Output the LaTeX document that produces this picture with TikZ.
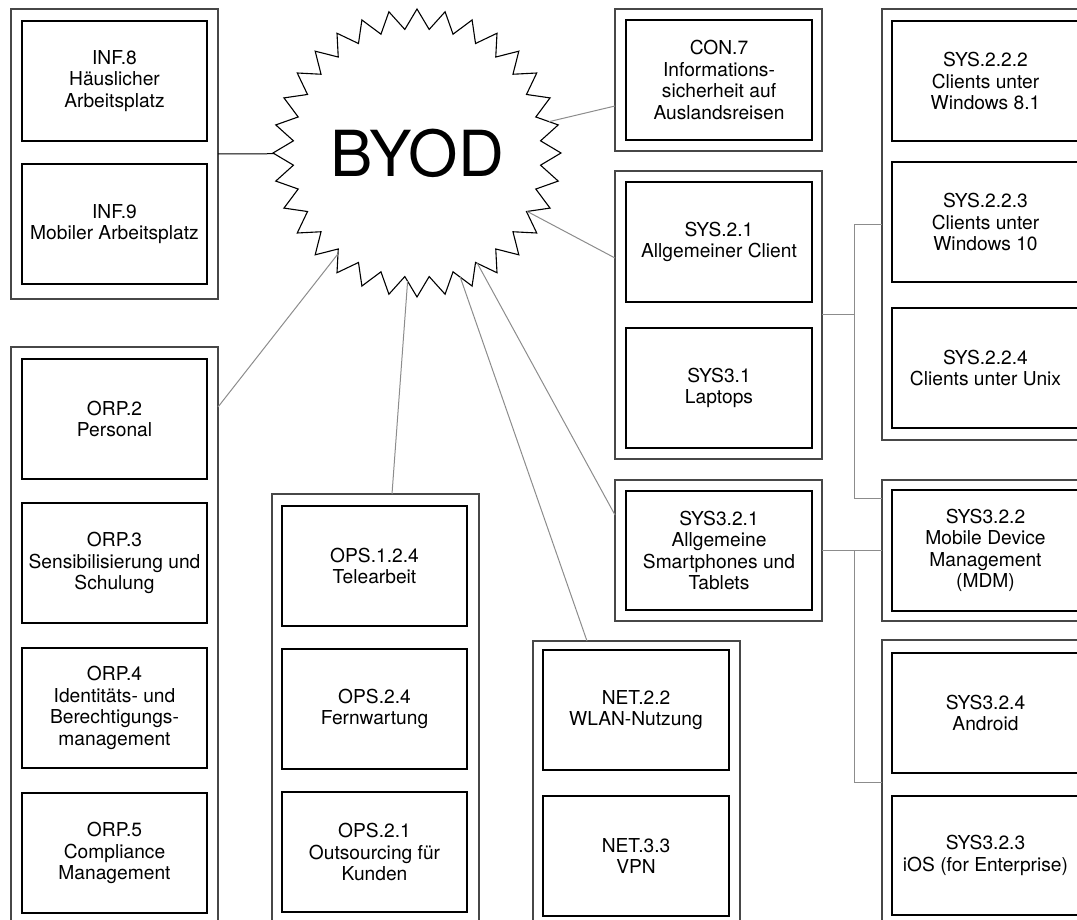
\documentclass[tikz,border=0pt]{standalone}
\usepackage{fontspec}
\setmainfont{TeX Gyre Heros}
\usetikzlibrary{shapes.geometric}

\tikzset{
  group/.style={draw=black!72, line width=1.3pt, inner sep=0pt, outer sep=0pt},
  item/.style={draw=black, line width=1.1pt, align=center, inner sep=0pt, outer sep=0pt,
    font=\fontsize{19.2}{21.5}\selectfont},
  link/.style={draw=black!45, line width=1pt},
  mainlink/.style={draw=black, line width=1pt},
  burst/.style={star, star points=32, star point ratio=1.16, minimum size=288pt,
    inner sep=0pt, outer sep=0pt, draw=black, line width=1.1pt,
    font=\fontsize{63.5}{70}\selectfont},
}

% \placebox{style}{name}{x1}{y1}{x2}{y2}{text}
\newcommand\placebox[7]{%
  \node[#1, minimum width={#5-#3}, minimum height={#6-#4}] (#2)
    at ({(#3+#5)/2},{(#4+#6)/2}) {#7};}

\begin{document}
\begin{tikzpicture}[x=1pt, y=-1pt]
  \useasboundingbox (0,0) rectangle (1077,920);
  \clip (0,0) rectangle (1077,920);

  % central burst
  \node[burst] (byod) at (417,153) {BYOD};

  % group frames
  \placebox{group}{ginf}{11}{9}{218}{299}{}
  \placebox{group}{gorp}{11}{347}{218}{940}{}
  \placebox{group}{gops}{272}{494}{479}{940}{}
  \placebox{group}{gnet}{533}{641}{740}{940}{}
  \placebox{group}{gcon}{615}{9}{822}{151}{}
  \placebox{group}{gcli}{615}{171}{822}{459}{}
  \placebox{group}{gsmart}{615}{480}{822}{621}{}
  \placebox{group}{gwin}{882}{9}{1089}{440}{}
  \placebox{group}{gmdm}{882}{480}{1089}{621}{}
  \placebox{group}{gmob}{882}{640}{1089}{940}{}

  % modules
  \placebox{item}{inf8}{22}{21}{207}{141}{INF.8\\Häuslicher\\Arbeitsplatz}
  \placebox{item}{inf9}{22}{164}{207}{284}{INF.9\\Mobiler Arbeitsplatz}

  \placebox{item}{orp2}{22}{359}{207}{479}{ORP.2\\Personal}
  \placebox{item}{orp3}{22}{503}{207}{623}{ORP.3\\Sensibilisierung und\\Schulung}
  \placebox{item}{orp4}{22}{648}{207}{768}{ORP.4\\Identitäts- und\\Berechtigungs-\\management}
  \placebox{item}{orp5}{22}{793}{207}{913}{ORP.5\\Compliance\\Management}

  \placebox{item}{ops124}{282}{506}{467}{626}{OPS.1.2.4\\Telearbeit}
  \placebox{item}{ops24}{282}{649}{467}{769}{OPS.2.4\\Fernwartung}
  \placebox{item}{ops21}{282}{792}{467}{912}{OPS.2.1\\Outsourcing für\\Kunden}

  \placebox{item}{net22}{543}{650}{729}{770}{NET.2.2\\WLAN-Nutzung}
  \placebox{item}{net33}{543}{796}{729}{916}{NET.3.3\\VPN}

  \placebox{item}{con7}{626}{20}{812}{140}{CON.7\\Informations-\\sicherheit auf\\Auslandsreisen}
  \placebox{item}{sys21}{626}{182}{812}{302}{SYS.2.1\\Allgemeiner Client}
  \placebox{item}{sys31}{626}{328}{812}{448}{SYS3.1\\Laptops}
  \placebox{item}{sys321}{626}{491}{812}{610}{SYS3.2.1\\Allgemeine\\Smartphones und\\Tablets}

  \placebox{item}{sys2222}{892}{21}{1079}{141}{SYS.2.2.2\\Clients unter\\Windows 8.1}
  \placebox{item}{sys2223}{892}{162}{1079}{282}{SYS.2.2.3\\Clients unter\\Windows 10}
  \placebox{item}{sys2224}{892}{308}{1079}{428}{SYS.2.2.4\\Clients unter Unix}
  \placebox{item}{sys322}{892}{490}{1079}{611}{SYS3.2.2\\Mobile Device\\Management\\(MDM)}
  \placebox{item}{sys324}{892}{653}{1079}{773}{SYS3.2.4\\Android}
  \placebox{item}{sys323}{892}{796}{1079}{915}{SYS3.2.3\\iOS (for Enterprise)}

  % links to the burst
  \draw[mainlink] (ginf.east) -- (byod);
  \draw[link] ([yshift=-26pt]gcon.west) -- (byod);
  \draw[link] ([yshift=57pt]gcli.west) -- (byod);
  \draw[link] ([yshift=-60pt]gorp.north east) -- (byod);
  \draw[link] ([xshift=16.5pt]gops.north) -- (byod);
  \draw[link] ([xshift=-49.5pt]gnet.north) -- (byod);
  \draw[link] ([yshift=35.5pt]gsmart.west) -- (byod);

  % elbow links between the client groups
  \coordinate (jc) at ([xshift=32pt]gcli.east);
  \coordinate (js) at ([xshift=32pt]gsmart.east);
  \draw[link] (gcli.east) -- (jc) |- (gwin.west);
  \draw[link] (jc) |- ([yshift=52.5pt]gmdm.west);
  \draw[link] (gsmart.east) -- (gmdm.west);
  \draw[link] (js) |- ([yshift=-142pt]gmob.north west);
\end{tikzpicture}
\end{document}
